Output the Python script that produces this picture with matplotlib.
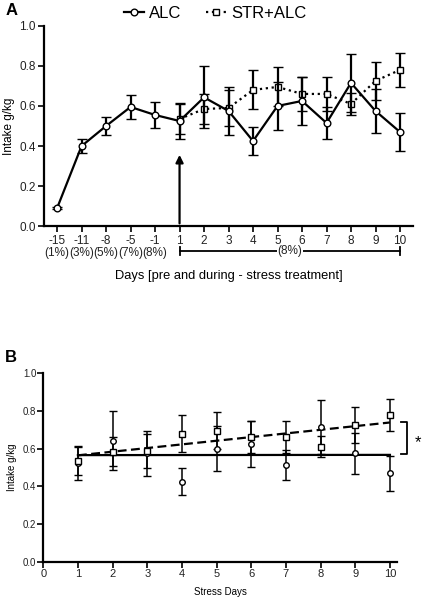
import numpy as np
from matplotlib import pyplot
from matplotlib import transforms
from matplotlib.lines import Line2D

pyplot.rcParams['font.family'] = ['Liberation Sans', 'DejaVu Sans']

# panel A: pre-stress days + stress days
days_a = ['-15', '-11', '-8', '-5', '-1', '1', '2', '3', '4', '5', '6', '7', '8', '9', '10']
conc_a = ['(1%)', '(3%)', '(5%)', '(7%)', '(8%)']
alc = [0.09, 0.40, 0.50, 0.595, 0.555, 0.525, 0.643, 0.575, 0.425, 0.60, 0.625, 0.515, 0.715, 0.575, 0.47]
alc_err = [0.005, 0.035, 0.045, 0.06, 0.063, 0.09, 0.155, 0.12, 0.072, 0.12, 0.12, 0.078, 0.145, 0.11, 0.093]

# STR+ALC starts at stress day 1
stress_days = [1, 2, 3, 4, 5, 6, 7, 8, 9, 10]
str_alc = [0.535, 0.585, 0.59, 0.68, 0.695, 0.66, 0.66, 0.61, 0.725, 0.78]
str_err = [0.075, 0.075, 0.09, 0.097, 0.097, 0.085, 0.085, 0.055, 0.095, 0.085]

fig = pyplot.figure(figsize=(4.24, 6), dpi=100)

# ---------- A ----------
ax = fig.add_axes([0.104, 0.623, 0.870, 0.334])
pos = np.arange(len(days_a))
pos_str = pos[5:]
ax.errorbar(pos, alc, yerr=alc_err, color='black', lw=1.6, elinewidth=1.6,
            capsize=3.5, capthick=1.6, marker='o', ms=4.8, mfc='white', mec='black',
            mew=1.0, zorder=3)
ax.errorbar(pos_str, str_alc, yerr=str_err, color='black', lw=1.6, ls=':',
            elinewidth=1.6, capsize=3.5, capthick=1.6, marker='s', ms=4.5,
            mfc='white', mec='black', mew=1.0, zorder=2)
ax.annotate('', xy=(5, 0.37), xytext=(5, 0.0),
            arrowprops=dict(arrowstyle='-|>', color='black', lw=1.6, mutation_scale=11))
ax.set_xlim(-0.53, 14.53)
ax.set_ylim(0, 1.0)
ax.set_yticks([0.0, 0.2, 0.4, 0.6, 0.8, 1.0])
ax.set_yticklabels(['0.0', '0.2', '0.4', '0.6', '0.8', '1.0'], fontsize=8.5, color='#222222')
labels = [d + '\n' + c for d, c in zip(days_a[:5], conc_a)] + days_a[5:]
ax.set_xticks(pos)
ax.set_xticklabels(labels, fontsize=8.5, color='#222222', linespacing=1.05)
ax.set_xlabel('Days [pre and during - stress treatment]', fontsize=9.3, labelpad=8)
ax.set_ylabel('Intake g/kg', fontsize=8.5, labelpad=3)
for s in ['top', 'right']:
    ax.spines[s].set_visible(False)
for s in ['left', 'bottom']:
    ax.spines[s].set_linewidth(1.6)
ax.tick_params(width=1.2, length=4, pad=2)

trans = transforms.blended_transform_factory(ax.transData, ax.transAxes)
ax.plot([5, 14], [-0.125, -0.125], color='black', lw=1.3, transform=trans, clip_on=False)
for xx in [5, 14]:
    ax.plot([xx, xx], [-0.105, -0.145], color='black', lw=1.3, transform=trans, clip_on=False)
ax.text(9.5, -0.125, '(8%)', transform=trans, ha='center', va='center', fontsize=8.5,
        color='#222222', bbox=dict(facecolor='white', edgecolor='none', pad=0.5))

handles = [
    Line2D([], [], color='black', lw=1.6, marker='o', ms=4.8, mfc='white', mec='black'),
    Line2D([], [], color='black', lw=1.6, ls=':', marker='s', ms=4.5, mfc='white', mec='black'),
]
fig.legend(handles, ['ALC', 'STR+ALC'], loc='center', bbox_to_anchor=(0.508, 0.978), ncol=2,
           frameon=False, fontsize=12, handlelength=1.2, handletextpad=0.3,
           columnspacing=1.5, borderpad=0)
fig.text(0.012, 0.982, 'A', fontsize=12, fontweight='bold', va='center')

# ---------- B ----------
bx = fig.add_axes([0.102, 0.0633, 0.834, 0.3147])
bx.errorbar(stress_days, alc[5:], yerr=alc_err[5:], color='black', ls='none',
            elinewidth=1.1, capsize=3, capthick=1.1, marker='o', ms=4, mfc='white',
            mec='black', mew=1.0, zorder=3)
bx.errorbar(stress_days, str_alc, yerr=str_err, color='black', ls='none',
            elinewidth=1.1, capsize=3, capthick=1.1, marker='s', ms=4, mfc='white',
            mec='black', mew=1.0, zorder=3)
xs = np.array([1, 10])
k1, b1 = np.polyfit(stress_days, alc[5:], 1)
k2, b2 = np.polyfit(stress_days, str_alc, 1)
bx.plot(xs, k1 * xs + b1, color='black', lw=1.6, zorder=2)
bx.plot(xs, k2 * xs + b2, color='black', lw=1.6, ls=(0, (4, 2)), zorder=2)
bx.set_xlim(0, 10.2)
bx.set_ylim(0, 1.0)
bx.set_xticks(range(11))
bx.set_xticklabels([str(i) for i in range(11)], fontsize=8, color='#222222')
bx.set_yticks([0.0, 0.2, 0.4, 0.6, 0.8, 1.0])
bx.set_yticklabels(['0.0', '0.2', '0.4', '0.6', '0.8', '1.0'], fontsize=7, color='#222222')
bx.set_xlabel('Stress Days', fontsize=7, labelpad=6)
bx.set_ylabel('Intake g/kg', fontsize=7)
for s in ['top', 'right']:
    bx.spines[s].set_visible(False)
for s in ['left', 'bottom']:
    bx.spines[s].set_linewidth(1.6)
bx.tick_params(width=1.2, length=4, pad=1)

btrans = transforms.blended_transform_factory(bx.transAxes, bx.transData)
bx.plot([1.012, 1.03, 1.03, 1.012], [0.74, 0.74, 0.57, 0.57], color='black', lw=1.3,
        transform=btrans, clip_on=False)
bx.text(1.06, 0.63, '*', transform=btrans, fontsize=12, ha='center', va='center')
fig.text(0.012, 0.405, 'B', fontsize=12, fontweight='bold', va='center')

pyplot.savefig('out.png', dpi=100)
